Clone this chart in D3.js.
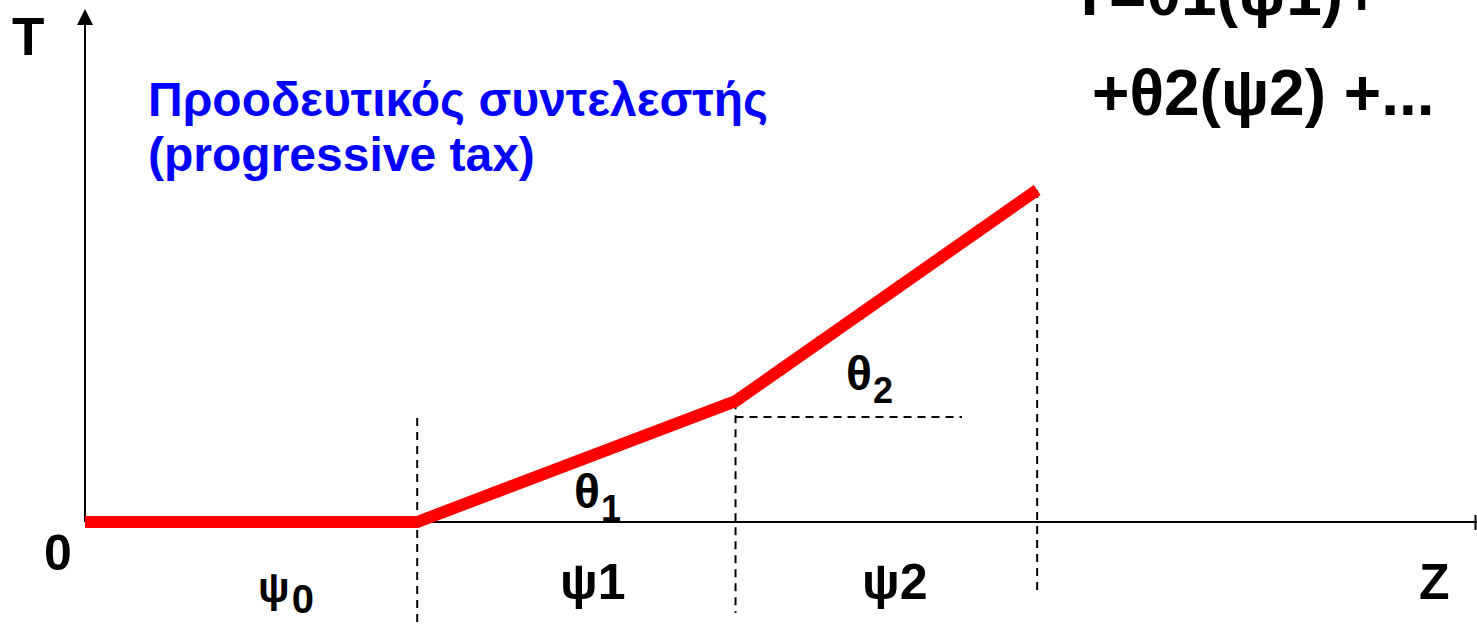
<!DOCTYPE html>
<meta charset="utf-8">
<style>
  body{ margin:0; background:#fff; }
  text{ font-family: "Liberation Sans", Arial, Helvetica, sans-serif; font-weight:bold; }
  .axis{ stroke:#000; stroke-width:2; fill:none; }
  .guide{ stroke:#000; stroke-width:2; stroke-dasharray:8,6; fill:none; }
  .tax{ stroke:#ff0000; stroke-width:12; fill:none; stroke-linejoin:miter; }
  .title{ fill:#0000ff; font-size:48px; }
  .formula{ font-size:64px; }
  .lbl{ font-size:50px; }
</style>
<body>
<div id="chart"></div>
<script src="https://d3js.org/d3.v7.min.js"></script>
<script>

// income (Z) breakpoints and tax (T) at each breakpoint
var incomeBreaks = [0, 2.39, 4.68, 6.85];
var taxValues    = [0, 0, 0.87, 2.39];

// bracket labels and slope labels
var bracketNames = ['ψ', 'ψ1', 'ψ2'];
var bracketSubs  = ['0', '', ''];
var slopeNames   = ['θ', 'θ'];
var slopeSubs    = ['1', '2'];

var titleLines   = ['Προοδευτικός συντελεστής', '(progressive tax)'];
var formulaLines = ['T=θ1(ψ1)+', '+θ2(ψ2) +...'];

var W = 1477, H = 626;

var svg = d3.select('#chart').append('svg').attr('width', W).attr('height', H);

var x = d3.scaleLinear().domain([0, 10]).range([85, 1475]);
var y = d3.scaleLinear().domain([0, 3.7]).range([522, 8]);

// dashed guides (bottom ends below the axis)
var guideBottom = [626, 613, 595];
svg.append('line').attr('class','guide')
  .attr('x1', x(incomeBreaks[1])).attr('x2', x(incomeBreaks[1]))
  .attr('y1', 418).attr('y2', guideBottom[0]);
svg.append('line').attr('class','guide')
  .attr('x1', x(incomeBreaks[2])).attr('x2', x(incomeBreaks[2]))
  .attr('y1', y(taxValues[2])).attr('y2', guideBottom[1]);
svg.append('line').attr('class','guide')
  .attr('x1', x(incomeBreaks[3])).attr('x2', x(incomeBreaks[3]))
  .attr('y1', y(taxValues[3])).attr('y2', guideBottom[2]);
// horizontal reference for theta2
svg.append('line').attr('class','guide')
  .attr('x1', x(incomeBreaks[2])).attr('x2', 962)
  .attr('y1', 417).attr('y2', 417);

// axes
svg.append('line').attr('class','axis')
  .attr('x1', x(0)).attr('x2', W).attr('y1', y(0)).attr('y2', y(0));
svg.append('line').attr('class','axis')
  .attr('x1', W - 1.5).attr('x2', W - 1.5).attr('y1', y(0) - 7).attr('y2', y(0) + 8);
svg.append('line').attr('class','axis')
  .attr('x1', x(0)).attr('x2', x(0)).attr('y1', y(0)).attr('y2', 22);
svg.append('path')
  .attr('d', d3.line()([[x(0), 9], [x(0) - 8, 25], [x(0) + 8, 25]]) + 'Z')
  .attr('fill', '#000');

// tax schedule
var pts = incomeBreaks.map(function(d, i){ return [d, taxValues[i]]; });
svg.append('path').attr('class','tax')
  .datum(pts)
  .attr('d', d3.line().x(function(d){ return x(d[0]); }).y(function(d){ return y(d[1]); }));

// axis labels
svg.append('text').attr('class','lbl').attr('x', 12).attr('y', 55).style('font-size','53px').text('T');
svg.append('text').attr('class','lbl').attr('x', 44).attr('y', 570).text('0');
svg.append('text').attr('class','lbl').attr('x', 1419).attr('y', 599).text('Z');

// bracket labels
var bracketPos = [[258, 602, 42], [560, 599, 50], [862, 599, 50]];
bracketNames.forEach(function(n, i){
  var t = svg.append('text').attr('class','lbl')
    .attr('x', bracketPos[i][0]).attr('y', bracketPos[i][1])
    .style('font-size', bracketPos[i][2] + 'px');
  t.append('tspan').text(n);
  if(bracketSubs[i]){
    t.append('tspan').attr('dy', 11).attr('dx', 2).style('font-size','40px').text(bracketSubs[i]);
  }
});

// slope labels
var slopePos = [[574, 508], [846, 390]];
slopeNames.forEach(function(n, i){
  var t = svg.append('text').attr('class','lbl')
    .attr('x', slopePos[i][0]).attr('y', slopePos[i][1])
    .style('font-size','48px');
  t.append('tspan').text(n);
  t.append('tspan').attr('dy', 13).attr('dx', 1).style('font-size','36px').text(slopeSubs[i]);
});

// title
svg.selectAll('.title').data(titleLines).enter().append('text')
  .attr('class','title')
  .attr('x', 148)
  .attr('y', function(d, i){ return 116 + i * 55; })
  .text(function(d){ return d; });

// formula (top line cut by the frame, as in the source)
var fx = [1070, 1092], fy = [15, 115];
svg.selectAll('.formula').data(formulaLines).enter().append('text')
  .attr('class','formula')
  .attr('x', function(d, i){ return fx[i]; })
  .attr('y', function(d, i){ return fy[i]; })
  .text(function(d){ return d; });

</script>
</body>
</html>
